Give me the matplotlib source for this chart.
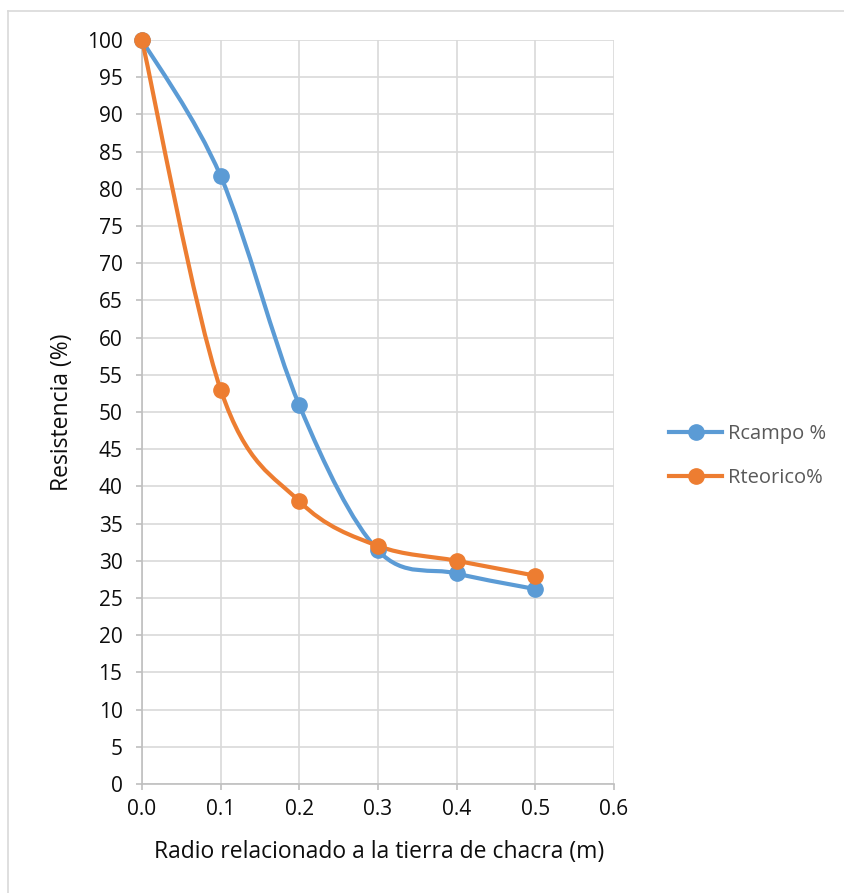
import numpy as np
import matplotlib
matplotlib.use('Agg')
import matplotlib.pyplot as plt
from matplotlib.path import Path
from matplotlib.patches import PathPatch
from matplotlib.lines import Line2D

# Data
radio = [0.0, 0.1, 0.2, 0.3, 0.4, 0.5]
r_campo = [100, 81.7, 50.9, 31.4, 28.3, 26.2]
r_teorico = [100, 53.0, 38.0, 32.0, 30.0, 28.0]

blue = '#5b9bd5'
orange = '#ed7d31'
grid_c = '#d9d9d9'
txt_c = '#0d0d0d'

plt.rcParams['font.family'] = ['Open Sans', 'DejaVu Sans']


def smooth_path(xs, ys):
    # Excel-like smoothed line: cubic bezier with Catmull-Rom control points
    pts = np.column_stack([xs, ys]).astype(float)
    n = len(pts)
    verts = [pts[0]]
    codes = [Path.MOVETO]
    for i in range(n - 1):
        p0 = pts[i - 1] if i > 0 else pts[i]
        p1 = pts[i]
        p2 = pts[i + 1]
        p3 = pts[i + 2] if i + 2 < n else pts[i + 1]
        c1 = p1 + (p2 - p0) / 6.0
        c2 = p2 - (p3 - p1) / 6.0
        verts += [c1, c2, p2]
        codes += [Path.CURVE4] * 3
    return Path(verts, codes)


fig = plt.figure(figsize=(8.44, 8.93), dpi=100)
ax = fig.add_axes([142 / 844, 1 - 784 / 893, 472 / 844, 744 / 893])

for ys, col, lab in [(r_campo, blue, 'Rcampo %'), (r_teorico, orange, 'Rteorico%')]:
    ax.add_patch(PathPatch(smooth_path(radio, ys), facecolor='none', edgecolor=col,
                           lw=3, capstyle='round', zorder=3, clip_on=False))
    ax.plot(radio, ys, 'o', color=col, ms=11, zorder=4, label=lab, clip_on=False)

ax.set_xlim(0, 0.6)
ax.set_ylim(0, 100)
ax.set_xticks(np.arange(0, 0.61, 0.1))
ax.set_xticklabels([f'{v:.1f}' for v in np.arange(0, 0.61, 0.1)])
ax.set_yticks(np.arange(0, 101, 5))
ax.grid(True, color=grid_c, lw=1.2)
ax.set_axisbelow(True)
for s in ['top', 'right']:
    ax.spines[s].set_visible(False)
for s in ['left', 'bottom']:
    ax.spines[s].set_color('#bfbfbf')
    ax.spines[s].set_linewidth(1.2)
ax.tick_params(axis='both', length=4, width=1.2, color='#bfbfbf', labelsize=15,
               labelcolor=txt_c)
ax.tick_params(axis='y', pad=10)
ax.tick_params(axis='x', pad=7)

fig.text(379 / 844, 1 - 852 / 893, 'Radio relacionado a la tierra de chacra (m)',
         fontsize=16.5, color=txt_c, ha='center', va='center')
fig.text(62 / 844, 1 - 412 / 893, 'Resistencia (%)', fontsize=16.5, color=txt_c,
         ha='center', va='center', rotation=90)

handles = [Line2D([], [], color=blue, lw=3, marker='o', ms=11),
           Line2D([], [], color=orange, lw=3, marker='o', ms=11)]
fig.legend(handles, ['Rcampo %', 'Rteorico%'], loc='center left',
           bbox_to_anchor=(669 / 844, 1 - 456 / 893), frameon=False,
           fontsize=14.5, handlelength=2.65, handletextpad=0.3, labelspacing=1.15,
           borderaxespad=0, borderpad=0, labelcolor='#595959')

# outer chart border
fig.add_artist(Line2D([8 / 844, 8 / 844], [0, 1 - 10.5 / 893], color=grid_c, lw=1.2,
                      transform=fig.transFigure))
fig.add_artist(Line2D([8 / 844, 1], [1 - 10.5 / 893, 1 - 10.5 / 893], color=grid_c,
                      lw=1.2, transform=fig.transFigure))

fig.savefig('out.png', dpi=100)
